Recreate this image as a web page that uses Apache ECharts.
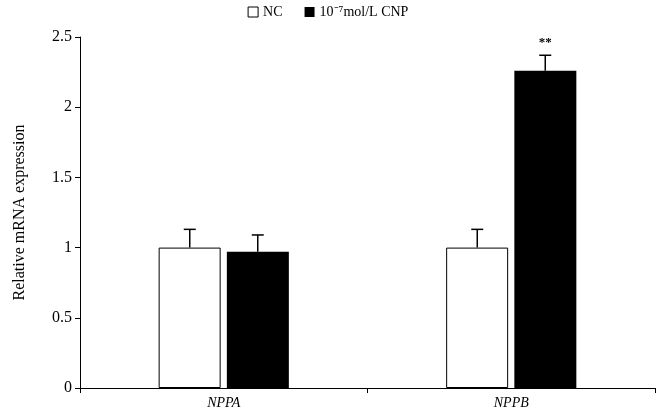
<!DOCTYPE html>
<html><head><meta charset="utf-8">
<script src="https://cdn.jsdelivr.net/npm/echarts@6/dist/echarts.min.js"></script>
<style>body{margin:0}#c{width:656px;height:416px}</style>
</head><body><div id="c"></div>
<script>
const categories = ['NPPA', 'NPPB'];
const ncValues = [1.0, 1.0];
const ncErr = [0.13, 0.13];
const cnpValues = [0.97, 2.26];
const cnpErr = [0.12, 0.11];
const sigLabels = ['', '**'];
const yTicks = ['0', '0.5', '1', '1.5', '2', '2.5'];

const font = 'Liberation Serif, Times New Roman, serif';
const BW = 62, GAP = 6;

function errSeries(vals, errs, offset, labels) {
    return {
        type: 'custom',
        z: 5,
        data: vals.map((v, i) => [i, v, v + errs[i], labels ? labels[i] : '']),
        renderItem: (params, api) => {
            const base = api.coord([api.value(0), api.value(1)]);
            const top = api.coord([api.value(0), api.value(2)]);
            const x = base[0] + offset;
            const kids = [
                { type: 'line', shape: { x1: x, y1: base[1], x2: x, y2: top[1] }, style: { stroke: '#000', lineWidth: 1.5 } },
                { type: 'line', shape: { x1: x - 6, y1: top[1], x2: x + 6, y2: top[1] }, style: { stroke: '#000', lineWidth: 1.5 } }
            ];
            const lab = api.value(3);
            if (lab) kids.push({ type: 'text', style: { text: lab, x: x, y: top[1] - 6, align: 'center', verticalAlign: 'bottom', font: 'bold 13px ' + font, fill: '#000' } });
            return { type: 'group', children: kids };
        }
    };
}

const chart = echarts.init(document.getElementById('c'));
chart.setOption({
    animation: false,
    legend: {
        top: 0, left: 'center', itemWidth: 10, itemHeight: 10, itemGap: 22,
        textStyle: { fontFamily: font, fontSize: 14, color: '#000' },
        data: [
            { name: 'NC', icon: 'rect', itemStyle: { color: '#fff', borderColor: '#000', borderWidth: 1 } },
            { name: '10⁻⁷mol/L CNP', icon: 'rect' }
        ]
    },
    grid: { left: 80, right: 1, top: 37, bottom: 28 },
    xAxis: {
        type: 'category', data: categories,
        axisLine: { lineStyle: { color: '#000' } },
        axisTick: { show: true, length: 5, lineStyle: { color: '#000' } },
        axisLabel: { fontFamily: font, fontStyle: 'italic', fontSize: 14, color: '#000', margin: 8 }
    },
    yAxis: {
        type: 'value', min: 0, max: 2.5, interval: 0.5,
        name: 'Relative mRNA expression', nameLocation: 'middle', nameGap: 52,
        nameTextStyle: { fontFamily: font, fontSize: 16, color: '#000' },
        axisLine: { show: true, lineStyle: { color: '#000' } },
        axisTick: { show: true, length: 5, lineStyle: { color: '#000' } },
        splitLine: { show: false },
        axisLabel: { fontFamily: font, fontSize: 16, color: '#000', formatter: v => yTicks[Math.round(v / 0.5)] }
    },
    series: [
        { name: 'NC', type: 'bar', data: ncValues, barWidth: BW, barGap: '10%',
          itemStyle: { color: '#fff', borderColor: '#000', borderWidth: 1 } },
        { name: '10⁻⁷mol/L CNP', type: 'bar', data: cnpValues, barWidth: BW,
          itemStyle: { color: '#000' } },
        errSeries(ncValues, ncErr, -(BW + GAP) / 2),
        errSeries(cnpValues, cnpErr, (BW + GAP) / 2, sigLabels)
    ]
});
</script></body></html>
